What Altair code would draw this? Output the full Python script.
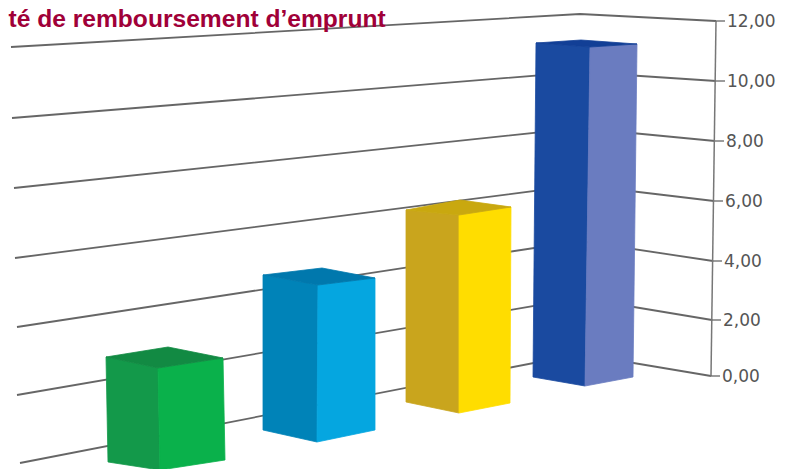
import altair as alt
import pandas as pd

# Reference-chart coordinates (projected 3D chart)
grid_labels = ["12,00", "10,00", "8,00", "6,00", "4,00", "2,00", "0,00"]
grid_left_x = [11, 12, 14, 15, 17, 17, 20]
grid_left_y = [47, 118, 188, 258, 327, 395, 463]
grid_apex_x = [580, 580, 580, 580, 580, 580, 580]
grid_apex_y = [14, 72, 128, 185, 241, 298, 354]
grid_right_x = [716, 716, 715, 714, 713, 712, 711]
grid_right_y = [21, 81, 141, 201, 261, 320, 376]

bar_names = ["vert", "bleu", "jaune", "marine"]
left_x_top = [106, 263, 406, 536]
left_y_top = [357, 275, 210, 43]
left_x_bot = [108, 263, 406, 533]
left_y_bot = [462, 430, 402, 377]
front_x_top = [158, 318, 459, 590]
front_y_top = [368, 285, 215, 47]
front_x_bot = [160, 317, 459, 585]
front_y_bot = [470, 442, 413, 386]
right_x_top = [223, 375, 511, 637]
right_y_top = [358, 278, 207, 44]
right_x_bot = [225, 375, 510, 633]
right_y_bot = [460, 430, 403, 377]
back_x_top = [168, 322, 460, 581]
back_y_top = [347, 268, 200, 40]

left_colors = ["#13994a", "#0083b8", "#c9a51d", "#1a4aa0"]
right_colors = ["#0ab14b", "#05a6e0", "#ffdd00", "#6a7cc0"]
top_colors = ["#128a43", "#0078ad", "#c9a80f", "#123f96"]

title_text = "té de remboursement d’emprunt"

X = alt.X("x:Q", axis=None, scale=alt.Scale(domain=[8, 778], range=[0, 770]))
Y = alt.Y("y:Q", axis=None, scale=alt.Scale(domain=[8, 469], range=[0, 461]))

layers = []

# grid lines
rows = []
for i, lab in enumerate(grid_labels):
    rows += [
        dict(g=lab, o=0, x=grid_left_x[i], y=grid_left_y[i]),
        dict(g=lab, o=1, x=grid_apex_x[i], y=grid_apex_y[i]),
        dict(g=lab, o=2, x=grid_right_x[i], y=grid_right_y[i]),
    ]
layers.append(
    alt.Chart(pd.DataFrame(rows))
    .mark_line(color="#555555", strokeWidth=1.8, strokeOpacity=0.9)
    .encode(x=X, y=Y, detail="g:N", order="o:Q")
)

# right axis line and ticks
axis_df = pd.DataFrame({"x": [grid_right_x[0], grid_right_x[-1]], "y": [grid_right_y[0], grid_right_y[-1]], "o": [0, 1]})
layers.append(
    alt.Chart(axis_df).mark_line(color="#777777", strokeWidth=1.5).encode(x=X, y=Y, order="o:Q")
)
tick_rows = []
for i, lab in enumerate(grid_labels):
    tick_rows += [
        dict(g=lab, o=0, x=grid_right_x[i], y=grid_right_y[i]),
        dict(g=lab, o=1, x=grid_right_x[i] + 9, y=grid_right_y[i]),
    ]
layers.append(
    alt.Chart(pd.DataFrame(tick_rows))
    .mark_line(color="#666666", strokeWidth=1.3)
    .encode(x=X, y=Y, detail="g:N", order="o:Q")
)
label_df = pd.DataFrame(
    {"x": [v + 11 for v in grid_right_x], "y": [v + 1 for v in grid_right_y], "t": grid_labels}
)
layers.append(
    alt.Chart(label_df)
    .mark_text(align="left", baseline="middle", font="DejaVu Sans", fontSize=17, color="#555555")
    .encode(x=X, y=Y, text="t:N")
)


def face(points, color):
    df = pd.DataFrame([dict(x=p[0], y=p[1], o=k) for k, p in enumerate(points)])
    return (
        alt.Chart(df)
        .mark_line(interpolate="linear-closed", fill=color, stroke=color, strokeWidth=0.8)
        .encode(x=X, y=Y, order="o:Q")
    )


for i in range(len(bar_names)):
    lt = (left_x_top[i], left_y_top[i])
    lb = (left_x_bot[i], left_y_bot[i])
    ft = (front_x_top[i], front_y_top[i])
    fb = (front_x_bot[i], front_y_bot[i])
    rt = (right_x_top[i], right_y_top[i])
    rb = (right_x_bot[i], right_y_bot[i])
    bt = (back_x_top[i], back_y_top[i])
    layers.append(face([lt, ft, fb, lb], left_colors[i]))
    layers.append(face([ft, rt, rb, fb], right_colors[i]))
    layers.append(face([lt, bt, rt, ft], top_colors[i]))

# title kept whole inside the drawing area
layers.append(
    alt.Chart(pd.DataFrame({"x": [8.5], "y": [27], "t": [title_text]}))
    .mark_text(align="left", baseline="alphabetic", font="Liberation Sans", fontWeight="bold", fontSize=24.6, color="#a00038")
    .encode(x=X, y=Y, text="t:N")
)

chart = (
    alt.layer(*layers)
    .properties(width=770, height=461, padding=0, autosize=alt.AutoSizeParams(type="none"))
    .configure_view(stroke=None)
)
chart.save("out.html", embed_options={"renderer": "svg", "actions": False})
